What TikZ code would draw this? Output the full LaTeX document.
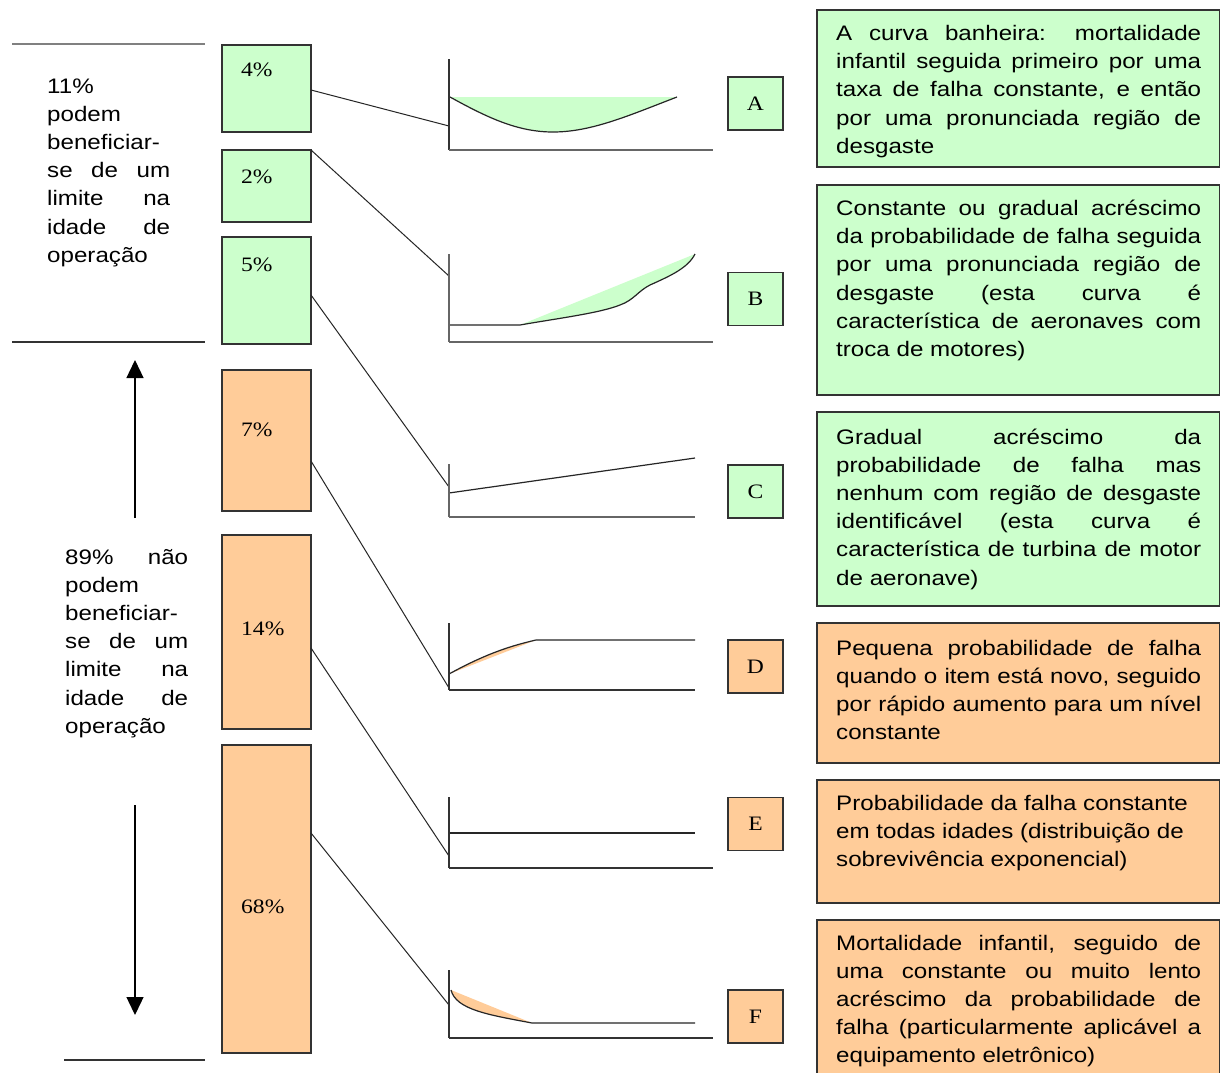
\documentclass[tikz,border=0pt]{standalone}
\usepackage{fontspec}
\setmainfont{Liberation Sans}[FakeStretch=1.15]
\newfontfamily\serifpct{Liberation Serif}[FakeStretch=1.15]
\usetikzlibrary{arrows.meta}
\definecolor{gfill}{HTML}{CCFFCC}
\definecolor{ofill}{HTML}{FFCC99}
\newcommand\pctfont{\serifpct\fontsize{20.5}{24}\selectfont}
\newcommand\jl[1]{\makebox[\hsize][s]{#1}\par}
\newcommand\pl[1]{#1\par}
\newcommand\desctext[1]{\vtop{\hsize=365pt\parindent=0pt\parskip=0pt\fontsize{21}{28.2}\selectfont #1}}
\newcommand\sidetext[1]{\vtop{\hsize=123pt\parindent=0pt\parskip=0pt\fontsize{21}{28.2}\selectfont #1}}
\begin{document}
\begin{tikzpicture}[x=1pt,y=-1pt,
  bx/.style={draw=black!80, line width=1.1pt, inner sep=0pt, outer sep=0pt, anchor=north west},
  lbox/.style={draw=black!80, line width=1.1pt, inner sep=0pt, outer sep=0pt, minimum width=55pt, minimum height=53pt, font=\pctfont},
  conn/.style={line width=1pt, draw=black!85},
  xax/.style={line width=1.6pt, draw=black!60},
  yax/.style={line width=1.3pt, draw=black!80},
  crv/.style={line width=1.2pt, draw=black!85},
  pct/.style={inner sep=0pt, anchor=base west, font=\pctfont},
  txt/.style={inner sep=0pt, anchor=base west},
  sep/.style={line width=1.3pt, draw=black!80}]
\useasboundingbox (0,0) rectangle (1220,1072);
\fill[white] (0,0) rectangle (1220,1072);

% separators
\draw[sep, draw=black!50] (12,44) -- (205,44);
\draw[sep] (12,342) -- (205,342);
\draw[sep] (64,1060) -- (205,1060);

% left texts
\node[txt] (left1) at (47,93) {\sidetext{\pl{11\%}\pl{podem}\pl{beneficiar-}\jl{se de um}\jl{limite na}\jl{idade de}\pl{operação}}};
\node[txt] (left2) at (65,564) {\sidetext{\jl{89\% não}\pl{podem}\pl{beneficiar-}\jl{se de um}\jl{limite na}\jl{idade de}\pl{operação}}};

% arrows
\coordinate (ua0) at (135,518); \coordinate (ua1) at (135,360);
\coordinate (da0) at (135,805); \coordinate (da1) at (135,1015);
\draw[line width=1.3pt, -{Triangle[length=18pt,width=17pt]}] (ua0) -- (ua1);
\draw[line width=1.3pt, -{Triangle[length=18pt,width=17pt]}] (da0) -- (da1);

% percentage boxes
\node[bx, fill=gfill, minimum width=89pt, minimum height=87pt] (p4) at (222,45) {};
\node[bx, fill=gfill, minimum width=89pt, minimum height=72pt] (p2) at (222,150) {};
\node[bx, fill=gfill, minimum width=89pt, minimum height=107pt] (p5) at (222,237) {};
\node[bx, fill=ofill, minimum width=89pt, minimum height=141pt] (p7) at (222,370) {};
\node[bx, fill=ofill, minimum width=89pt, minimum height=194pt] (p14) at (222,535) {};
\node[bx, fill=ofill, minimum width=89pt, minimum height=308pt] (p68) at (222,745) {};
\node[pct] (t4) at (241,76.5) {4\%};
\node[pct] (t2) at (241,183) {2\%};
\node[pct] (t5) at (241,271) {5\%};
\node[pct] (t7) at (241,436.5) {7\%};
\node[pct] (t14) at (241,635.5) {14\%};
\node[pct] (t68) at (241,913) {68\%};

% chart coordinates (ends of connectors on the y axes)
\coordinate (ca) at (449,126);
\coordinate (cb) at (449,276);
\coordinate (cc) at (449,487);
\coordinate (cd) at (449,688);
\coordinate (ce) at (449,856);
\coordinate (cf) at (449,1005);

% connectors
\draw[conn] ([yshift=-1.5pt]p4.east) -- (ca);
\draw[conn] (p2.north east) -- (cb);
\draw[conn] ([yshift=-4.5pt]p5.east) -- (cc);
\draw[conn] ([yshift=-20.5pt]p7.east) -- (cd);
\draw[conn] ([yshift=-16pt]p14.east) -- (ce);
\draw[conn] ([yshift=66pt]p68.east) -- (cf);

% chart A
\fill[gfill] (450,97) -- (677,97) .. controls (630,115) and (592,132) .. (553,132) .. controls (518,132) and (488,118) .. (450,97) -- cycle;
\draw[crv] (450,97) .. controls (488,118) and (518,132) .. (553,132) .. controls (592,132) and (630,115) .. (677,97);
\draw[yax] (449,59) -- (449,150);
\draw[xax] (449,150) -- (713,150);

% chart B
\fill[gfill] (520,325) -- (695,254) .. controls (688,268) and (670,276) .. (650,285) .. controls (638,291) and (634,300) .. (620,305) .. controls (600,313) and (560,318) .. (520,325) -- cycle;
\draw[crv] (449,325) -- (520,325) .. controls (560,318) and (600,313) .. (620,305) .. controls (634,300) and (638,291) .. (650,285) .. controls (670,276) and (688,268) .. (695,254);
\draw[xax] (449,254) -- (449,342);
\draw[xax] (449,342) -- (713,342);

% chart C
\draw[crv] (449,493) -- (695,458);
\draw[xax] (449,464) -- (449,517);
\draw[xax] (449,517) -- (695,517);

% chart D
\fill[ofill] (449,674) .. controls (480,657) and (505,647) .. (536,640) -- cycle;
\draw[crv] (449,674) .. controls (480,657) and (505,647) .. (536,640) -- (695,640);
\draw[yax] (449,623) -- (449,690);
\draw[yax] (449,690) -- (695,690);

% chart E
\draw[crv] (449,833) -- (695,833);
\draw[yax] (449,797) -- (449,868);
\draw[yax] (449,868) -- (713,868);

% chart F
\fill[ofill] (451,990) -- (532,1023) .. controls (490,1015) and (456,1010) .. (451,990) -- cycle;
\draw[crv] (451,990) .. controls (456,1010) and (490,1015) .. (532,1023) -- (695,1023);
\draw[yax] (449,970) -- (449,1038);
\draw[yax] (449,1038) -- (713,1038);

% letter boxes
\node[lbox, fill=gfill] (lA) at (755.5,103.5) {A};
\node[lbox, fill=gfill] (lB) at (755.5,299) {B};
\node[lbox, fill=gfill] (lC) at (755.5,491.5) {C};
\node[lbox, fill=ofill] (lD) at (755.5,666.5) {D};
\node[lbox, fill=ofill] (lE) at (755.5,824) {E};
\node[lbox, fill=ofill] (lF) at (755.5,1016.5) {F};

% description boxes
\node[bx, fill=gfill, minimum width=402.5pt, minimum height=157pt] (dA) at (817,10) {};
\node[bx, fill=gfill, minimum width=402.5pt, minimum height=210pt] (dB) at (817,185) {};
\node[bx, fill=gfill, minimum width=402.5pt, minimum height=194pt] (dC) at (817,412) {};
\node[bx, fill=ofill, minimum width=402.5pt, minimum height=140pt] (dD) at (817,623) {};
\node[bx, fill=ofill, minimum width=402.5pt, minimum height=123pt] (dE) at (817,780) {};
\node[bx, fill=ofill, minimum width=402.5pt, minimum height=165pt] (dF) at (817,920) {};

\node[txt] (tA) at (836,40.5) {\desctext{\jl{A curva banheira: mortalidade}\jl{infantil seguida primeiro por uma}\jl{taxa de falha constante, e então}\jl{por uma pronunciada região de}\pl{desgaste}}};
\node[txt] (tB) at (836,215.5) {\desctext{\jl{Constante ou gradual acréscimo}\jl{da probabilidade de falha seguida}\jl{por uma pronunciada região de}\jl{desgaste (esta curva é}\jl{característica de aeronaves com}\pl{troca de motores)}}};
\node[txt] (tC) at (836,444) {\desctext{\jl{Gradual acréscimo da}\jl{probabilidade de falha mas}\jl{nenhum com região de desgaste}\jl{identificável (esta curva é}\jl{característica de turbina de motor}\pl{de aeronave)}}};
\node[txt] (tD) at (836,655) {\desctext{\jl{Pequena probabilidade de falha}\jl{quando o item está novo, seguido}\jl{por rápido aumento para um nível}\pl{constante}}};
\node[txt] (tE) at (836,810.5) {\desctext{\pl{Probabilidade da falha constante}\pl{em todas idades (distribuição de}\pl{sobrevivência exponencial)}}};
\node[txt] (tF) at (836,950) {\desctext{\jl{Mortalidade infantil, seguido de}\jl{uma constante ou muito lento}\jl{acréscimo da probabilidade de}\jl{falha (particularmente aplicável a}\pl{equipamento eletrônico)}}};
\end{tikzpicture}
\end{document}
